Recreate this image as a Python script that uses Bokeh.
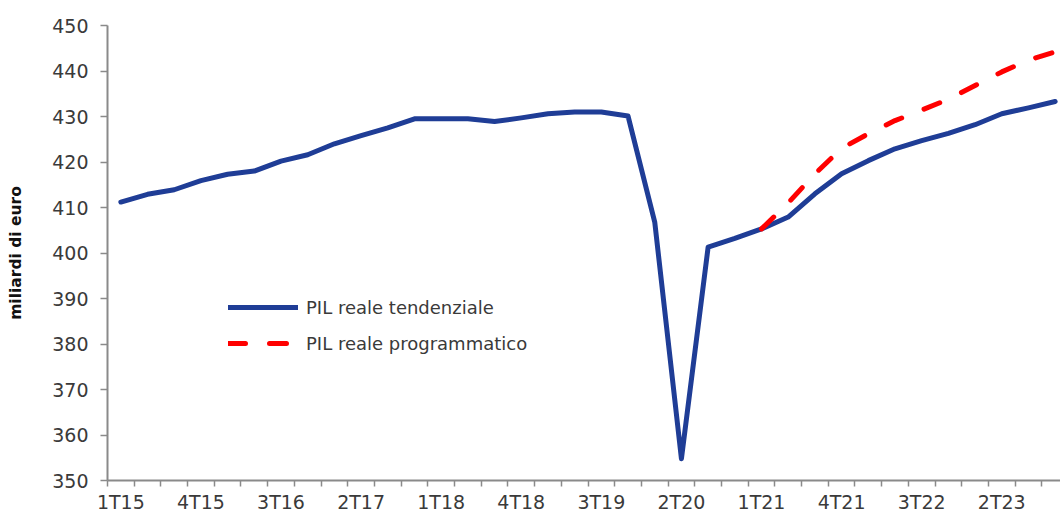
from bokeh.plotting import figure
from bokeh.models import Range1d, FixedTicker, Legend, LegendItem
from bokeh.embed import file_html
from bokeh.resources import INLINE

# ---- data ----
quarters = ["1T15", "2T15", "3T15", "4T15", "1T16", "2T16", "3T16", "4T16",
            "1T17", "2T17", "3T17", "4T17", "1T18", "2T18", "3T18", "4T18",
            "1T19", "2T19", "3T19", "4T19", "1T20", "2T20", "3T20", "4T20",
            "1T21", "2T21", "3T21", "4T21", "1T22", "2T22", "3T22", "4T22",
            "1T23", "2T23", "3T23", "4T23"]

pil_tendenziale = [411.2, 412.9, 413.9, 415.9, 417.3, 418.0, 420.2, 421.6,
                   424.0, 425.8, 427.5, 429.5, 429.5, 429.5, 428.9, 429.7,
                   430.6, 431.0, 431.0, 430.1, 406.8, 354.8, 401.3, 403.2,
                   405.3, 407.9, 413.0, 417.4, 420.3, 422.9, 424.7, 426.3,
                   428.2, 430.6, 431.9, 433.3]

prog_start = "1T21"
pil_programmatico = [405.3, 411.0, 417.4, 423.0, 426.2, 429.1, 431.4, 433.8,
                     436.8, 439.8, 442.4, 444.2]

tick_labels = quarters[::3]
y_ticks = [350, 360, 370, 380, 390, 400, 410, 420, 430, 440, 450]

series_names = ["PIL reale tendenziale", "PIL reale programmatico"]

# ---- derived positions ----
x_t = list(range(len(quarters)))
i0 = quarters.index(prog_start)
x_p = list(range(i0, i0 + len(pil_programmatico)))
tick_pos = [quarters.index(t) for t in tick_labels]

BLUE = "#1f3d96"
RED = "#ff0000"
AXIS = "#8a8a8a"
TXT = "#3a3a3a"
FONT = "DejaVu Sans"

p = figure(width=1060, height=515, output_backend="svg", toolbar_location=None,
           x_range=Range1d(-0.5, 35.2), y_range=Range1d(350, 450),
           min_border_left=107, min_border_right=0, min_border_top=25,
           min_border_bottom=35)
p.outline_line_color = None
p.xgrid.visible = False
p.ygrid.visible = False
p.background_fill_color = "white"
p.border_fill_color = "white"

r1 = p.line(x_t, pil_tendenziale, line_color=BLUE, line_width=5,
            line_join="round", line_cap="round")
r2 = p.line(x_p, pil_programmatico, line_color=RED, line_width=5,
            line_dash="17 24", line_cap="round", line_join="round")

# x axis
xa = p.xaxis[0]
xa.ticker = FixedTicker(ticks=tick_pos,
                        minor_ticks=[i - 0.5 for i in range(len(quarters) + 1)])
xa.major_label_overrides = {pos: lab for pos, lab in zip(tick_pos, tick_labels)}
xa.major_tick_out = 0
xa.major_tick_in = 0
xa.minor_tick_out = 6
xa.minor_tick_in = 0
xa.minor_tick_line_color = AXIS
xa.minor_tick_line_width = 1.5
xa.axis_line_color = AXIS
xa.axis_line_width = 2
xa.major_label_standoff = 4
xa.major_label_text_font = FONT
xa.major_label_text_font_size = "19px"
xa.major_label_text_color = TXT

# y axis
ya = p.yaxis[0]
ya.ticker = FixedTicker(ticks=y_ticks)
ya.major_tick_out = 7
ya.major_tick_in = 0
ya.minor_tick_out = 0
ya.minor_tick_in = 0
ya.major_tick_line_color = AXIS
ya.major_tick_line_width = 1.5
ya.axis_line_color = AXIS
ya.axis_line_width = 2
ya.major_label_standoff = 12
ya.major_label_text_font = FONT
ya.major_label_text_font_size = "19px"
ya.major_label_text_color = TXT
ya.axis_label = "miliardi di euro"
ya.axis_label_text_font = FONT
ya.axis_label_text_font_style = "bold"
ya.axis_label_text_font_size = "15.5px"
ya.axis_label_text_color = "#111111"
ya.axis_label_standoff = 24

legend = Legend(items=[LegendItem(label=series_names[0], renderers=[r1]),
                       LegendItem(label=series_names[1], renderers=[r2])],
                location=(121, 119), padding=0, margin=0, spacing=0,
                glyph_width=70, glyph_height=36, label_height=36,
                label_standoff=8, border_line_alpha=0,
                background_fill_alpha=0,
                label_text_font=FONT, label_text_font_size="18px",
                label_text_color=TXT)
p.add_layout(legend)

open("out.html", "w").write(file_html(p, INLINE))
